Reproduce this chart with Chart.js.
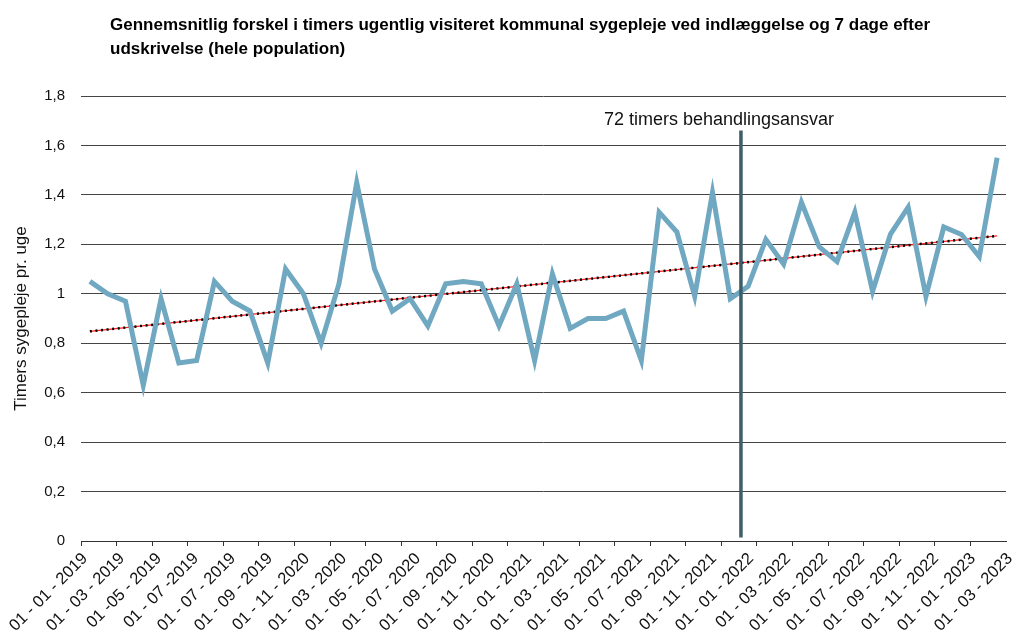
<!DOCTYPE html>
<html>
<head>
<meta charset="utf-8">
<script src="https://cdn.jsdelivr.net/npm/chart.js@4.4.1/dist/chart.umd.min.js"></script>
<style>
  html, body { margin: 0; padding: 0; background: #fff; }
  #wrap { width: 1015px; height: 635px; }
</style>
</head>
<body>
<div id="wrap"><canvas id="lineChart"></canvas></div>
<script>
const chartTitle = [
  'Gennemsnitlig forskel i timers ugentlig visiteret kommunal sygepleje ved indlæggelse og 7 dage efter',
  'udskrivelse (hele population)'
];
const yAxisTitle = 'Timers sygepleje pr. uge';
const markerText = '72 timers behandlingsansvar';

// one category per month
const months = [
  '2019-01', '2019-02', '2019-03', '2019-04', '2019-05', '2019-06', '2019-07', '2019-08', '2019-09', '2019-10', '2019-11', '2019-12',
  '2020-01', '2020-02', '2020-03', '2020-04', '2020-05', '2020-06', '2020-07', '2020-08', '2020-09', '2020-10', '2020-11', '2020-12',
  '2021-01', '2021-02', '2021-03', '2021-04', '2021-05', '2021-06', '2021-07', '2021-08', '2021-09', '2021-10', '2021-11', '2021-12',
  '2022-01', '2022-02', '2022-03', '2022-04', '2022-05', '2022-06', '2022-07', '2022-08', '2022-09', '2022-10', '2022-11', '2022-12',
  '2023-01', '2023-02', '2023-03', '2023-04'
];

// labels as printed under the axis (every second month)
const tickLabels = [
  '01 - 01 - 2019', '01 - 03 - 2019', '01 -05 - 2019', '01 - 07 -2019', '01 - 07 - 2019', '01 - 09 - 2019',
  '01 - 11 - 2020', '01 - 03 - 2020', '01 - 05 - 2020', '01 - 07 - 2020', '01 - 09 - 2020', '01 - 11 - 2020',
  '01 - 01 - 2021', '01 - 03 - 2021', '01 - 05 - 2021', '01 - 07 - 2021', '01 - 09 - 2021', '01 - 11 - 2021',
  '01 - 01 - 2022', '01 - 03 -2022', '01 - 05 - 2022', '01 - 07 - 2022', '01 - 09 - 2022', '01 - 11 - 2022',
  '01 - 01 - 2023', '01 - 03 - 2023'
];

const timer = [
  1.05, 1.00, 0.97, 0.63, 0.98, 0.72, 0.73, 1.05, 0.97, 0.93, 0.72, 1.10,
  1.00, 0.80, 1.04, 1.45, 1.10, 0.93, 0.98, 0.87, 1.04, 1.05, 1.04, 0.87,
  1.04, 0.73, 1.08, 0.86, 0.90, 0.90, 0.93, 0.73, 1.33, 1.25, 0.99, 1.41,
  0.98, 1.03, 1.22, 1.12, 1.37, 1.19, 1.13, 1.33, 1.01, 1.24, 1.35, 0.99,
  1.27, 1.24, 1.15, 1.55
];

// linear trend: start and end value only
const trendStart = 0.848;
const trendEnd = 1.234;
const trend = months.map((m, i) => i === 0 ? trendStart : (i === months.length - 1 ? trendEnd : null));

// vertical marker (position in category units)
const markerIndex = 36.6;
const markerTop = 1.66;
const markerBottom = 0.014;

const yTicks = [0, 0.2, 0.4, 0.6, 0.8, 1, 1.2, 1.4, 1.6, 1.8];

const fmt = v => String(Number(v.toFixed(1))).replace('.', ',');

const overlayPlugin = {
  id: 'overlay',
  afterDatasetsDraw(chart) {
    const { ctx, scales: { x, y } } = chart;
    const mx = x.getPixelForValue(markerIndex);
    const top = y.getPixelForValue(markerTop);
    ctx.save();
    ctx.strokeStyle = '#3e5d6b';
    ctx.lineWidth = 3.5;
    ctx.beginPath();
    ctx.moveTo(mx, top);
    ctx.lineTo(mx, y.getPixelForValue(markerBottom));
    ctx.stroke();

    ctx.fillStyle = '#111';
    ctx.font = '18px "Liberation Sans", Arial, sans-serif';
    ctx.textAlign = 'center';
    ctx.textBaseline = 'alphabetic';
    ctx.fillText(markerText, mx - 22, top - 6);
    ctx.restore();
  },
  afterDraw(chart) {
    const { ctx } = chart;
    ctx.save();
    ctx.fillStyle = '#000';
    ctx.font = 'bold 17px "Liberation Sans", Arial, sans-serif';
    ctx.textAlign = 'left';
    ctx.textBaseline = 'alphabetic';
    ctx.fillText(chartTitle[0], 110, 30);
    ctx.fillText(chartTitle[1], 110, 54);
    ctx.restore();
  }
};

const ctx = document.getElementById('lineChart').getContext('2d');

new Chart(ctx, {
  type: 'line',
  data: {
    labels: months,
    datasets: [
      {
        label: 'Timer',
        data: timer,
        borderColor: '#70a8c2',
        borderWidth: 5,
        pointRadius: 0,
        tension: 0,
        fill: false
      },
      {
        label: 'Trend prikker',
        data: trend,
        spanGaps: true,
        borderColor: '#000',
        borderWidth: 2.5,
        borderDash: [2, 3.6],
        pointRadius: 0,
        fill: false
      },
      {
        label: 'Trend',
        data: trend,
        spanGaps: true,
        borderColor: '#ff2020',
        borderWidth: 1.2,
        pointRadius: 0,
        fill: false
      }
    ]
  },
  options: {
    responsive: true,
    maintainAspectRatio: false,
    animation: false,
    layout: { padding: { top: 96, right: 9, left: 0, bottom: 0 } },
    plugins: {
      legend: { display: false },
      tooltip: { enabled: false }
    },
    scales: {
      x: {
        type: 'category',
        offset: true,
        weight: 0,
        grid: {
          offset: true,
          drawOnChartArea: false,
          drawTicks: true,
          tickLength: 5,
          tickColor: c => (c.index % 2 === 0 ? '#333' : 'rgba(0,0,0,0)')
        },
        border: { display: true, color: '#333', width: 1 },
        ticks: { display: false },
        afterFit: s => { s.height = 6; s.paddingLeft = 0; s.paddingRight = 0; }
      },
      x2: {
        type: 'category',
        position: 'bottom',
        labels: tickLabels,
        offset: false,
        weight: 1,
        grid: { display: false, drawTicks: false },
        border: { display: false },
        ticks: {
          autoSkip: false,
          maxRotation: 45,
          minRotation: 45,
          padding: 2,
          labelOffset: 4,
          color: '#111',
          font: { family: '"Liberation Sans", Arial, sans-serif', size: 16.5 }
        },
        afterFit: s => { s.height = 88; s.paddingLeft = 0; s.paddingRight = 0; }
      },
      y: {
        min: 0,
        max: 1.8,
        afterBuildTicks: s => { s.ticks = yTicks.map(v => ({ value: v })); },
        grid: { color: '#444', lineWidth: 1, drawTicks: false },
        border: { display: false },
        ticks: {
          padding: 16,
          color: '#111',
          font: { family: '"Liberation Sans", Arial, sans-serif', size: 15 },
          callback: v => fmt(v)
        },
        title: {
          display: true,
          text: yAxisTitle,
          color: '#111',
          font: { family: '"Liberation Sans", Arial, sans-serif', size: 17 },
          padding: { top: 11, bottom: 4 }
        },
        afterFit: s => { s.width = 81; }
      }
    }
  },
  plugins: [overlayPlugin]
});
</script>
</body>
</html>
